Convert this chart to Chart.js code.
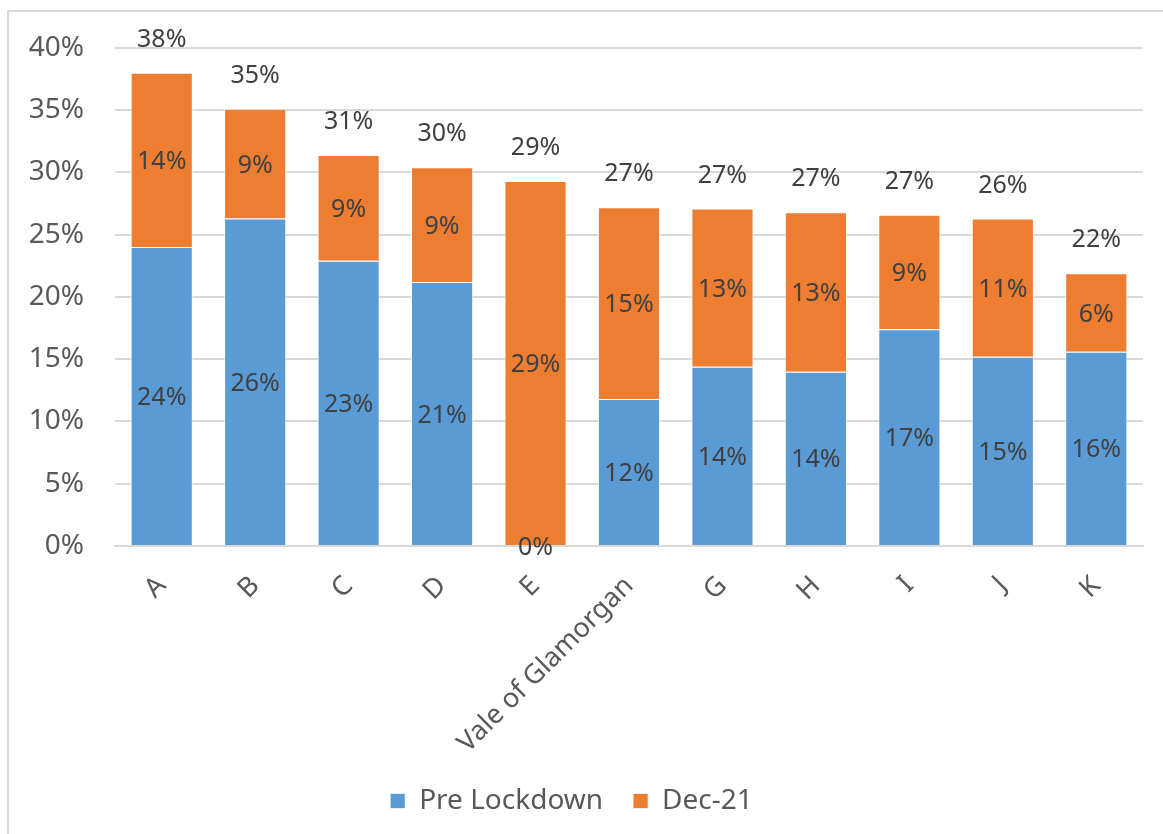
<!DOCTYPE html>
<html>
<head>
<meta charset="utf-8">
<script src="https://cdn.jsdelivr.net/npm/chart.js@4"></script>
<style>
    html, body { margin: 0; padding: 0; background: #ffffff; }
    #wrap { position: absolute; left: 0; top: 0; width: 1163px; height: 834px; }
</style>
</head>
<body>
<div id="wrap"><canvas id="lockdownChart" width="1163" height="834"></canvas></div>
<script>
const categories = ['A', 'B', 'C', 'D', 'E', 'Vale of Glamorgan', 'G', 'H', 'I', 'J', 'K'];
const preLockdown = [24.0, 26.3, 22.9, 21.2, 0, 11.8, 14.4, 14.0, 17.4, 15.2, 15.6];
const dec21 = [14.0, 8.8, 8.5, 9.2, 29.3, 15.4, 12.7, 12.8, 9.2, 11.1, 6.3];
const yTicks = [0, 5, 10, 15, 20, 25, 30, 35, 40];

const FONT = "'Noto Sans', 'DejaVu Sans', sans-serif";
const TEXT = '#595959';
const LABEL = '#404040';
const GRID = '#d9d9d9';

// light frame round the whole chart
const framePlugin = {
    id: 'frame',
    beforeDraw(chart) {
        const ctx = chart.ctx;
        ctx.save();
        ctx.strokeStyle = GRID;
        ctx.lineWidth = 2;
        ctx.beginPath();
        ctx.moveTo(8, 900);
        ctx.lineTo(8, 11);
        ctx.lineTo(1200, 11);
        ctx.stroke();
        ctx.restore();
    }
};

// segment values in the middle of each bar piece, totals above the stack
const valueLabels = {
    id: 'valueLabels',
    afterDatasetsDraw(chart) {
        const ctx = chart.ctx;
        const yScale = chart.scales.y;
        ctx.save();
        ctx.fillStyle = LABEL;
        ctx.textAlign = 'center';
        ctx.textBaseline = 'middle';
        ctx.font = '25px ' + FONT;
        chart.data.datasets.forEach((ds, di) => {
            chart.getDatasetMeta(di).data.forEach((bar, i) => {
                const mid = (bar.y + bar.base) / 2;
                ctx.fillText(Math.round(ds.data[i]) + '%', bar.x, mid + 2);
            });
        });
        const topMeta = chart.getDatasetMeta(1);
        categories.forEach((c, i) => {
            const total = preLockdown[i] + dec21[i];
            const x = topMeta.data[i].x;
            const y = yScale.getPixelForValue(total) - 33;
            ctx.fillText(Math.round(total) + '%', x, y);
        });
        ctx.restore();
    }
};

const ctx = document.getElementById('lockdownChart').getContext('2d');

new Chart(ctx, {
    type: 'bar',
    data: {
        labels: categories,
        datasets: [
            {
                label: 'Pre Lockdown',
                data: preLockdown,
                backgroundColor: '#5b9bd5',
                borderColor: 'rgba(255,255,255,0.7)',
                borderWidth: 1,
                categoryPercentage: 0.665,
                barPercentage: 1
            },
            {
                label: 'Dec-21',
                data: dec21,
                backgroundColor: '#ed7d31',
                borderColor: 'rgba(255,255,255,0.7)',
                borderWidth: 1,
                categoryPercentage: 0.665,
                barPercentage: 1
            }
        ]
    },
    options: {
        responsive: false,
        animation: false,
        layout: {
            padding: { left: 0, right: 20, top: 42, bottom: 9 }
        },
        plugins: {
            tooltip: { enabled: false },
            legend: {
                position: 'bottom',
                labels: {
                    color: TEXT,
                    font: { family: FONT, size: 28 },
                    boxWidth: 15,
                    boxHeight: 15,
                    padding: 30
                }
            }
        },
        scales: {
            x: {
                stacked: true,
                grid: { display: false },
                border: { color: GRID, width: 2 },
                ticks: {
                    color: TEXT,
                    font: { family: FONT, size: 27 },
                    minRotation: 45,
                    maxRotation: 45,
                    padding: 16
                },
                afterFit: (scale) => { scale.height = 211; }
            },
            y: {
                stacked: true,
                min: 0,
                max: 40,
                border: { display: false },
                grid: { color: GRID, lineWidth: 2, drawTicks: false },
                afterBuildTicks: (scale) => {
                    scale.ticks = yTicks.map(v => ({ value: v }));
                },
                ticks: {
                    color: TEXT,
                    font: { family: FONT, size: 28 },
                    padding: 31,
                    callback: (value) => value + '%'
                },
                afterFit: (scale) => { scale.width = 115; }
            }
        }
    },
    plugins: [framePlugin, valueLabels]
});
</script>
</body>
</html>
